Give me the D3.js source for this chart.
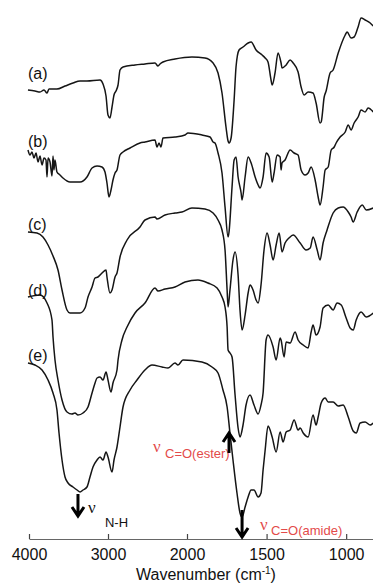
<!DOCTYPE html>
<html lang="en">
<head>
<meta charset="UTF-8" />
<title>FTIR spectra</title>
<style>
  body { margin: 0; background: #fff; }
  #viz text { font-family: "Liberation Sans", Arial, sans-serif; }
</style>
</head>
<body>
<div id="viz"></div>
<script src="https://cdnjs.cloudflare.com/ajax/libs/d3/7.8.5/d3.min.js"></script>
<script>
// [wavenumber (cm-1), transmittance (a.u., traces offset)]
const traceA = [[4013,90],[3924,89.8],[3861,89.6],[3810,90],[3772,89.4],[3747,90.2],[3646,90.2],[3544,90.8],[3443,91.4],[3354,91.8],[3266,91.8],[3101,92],[3063,91.2],[3025,88.8],[3000,85],[2975,84.4],[2949,86.6],[2924,89],[2899,89.8],[2873,91],[2848,94],[2810,94.6],[2658,95],[2532,95.2],[2405,95.4],[2367,94.8],[2342,95.2],[2304,95.6],[2152,96.2],[1969,96.6],[1887,96.4],[1836,95.4],[1805,93.4],[1780,89.4],[1755,82.6],[1742,79.8],[1736,79.4],[1723,80.4],[1704,88],[1692,94.6],[1673,98],[1648,98.6],[1616,99.4],[1597,99.6],[1566,98],[1528,97],[1509,96.4],[1491,95.6],[1472,92],[1465,91],[1447,93.4],[1428,97.4],[1409,95.4],[1403,94.4],[1377,95],[1352,96],[1333,95.4],[1302,93.6],[1283,90.6],[1264,89],[1239,89.6],[1208,89.4],[1189,87.4],[1164,83.4],[1157,83.6],[1138,88.6],[1126,89.8],[1101,93.4],[1082,94],[1050,97.4],[1006,101],[994,101.6],[969,100.4],[950,100.6],[925,102.6],[906,104.4],[881,104],[849,103.4],[830,102.8]];

const traceB = [[4013,78],[3987,77],[3962,77.6],[3937,76.4],[3911,77.4],[3886,75.6],[3861,76.8],[3835,75],[3810,76.4],[3785,76],[3772,72.6],[3759,76.4],[3734,75.6],[3709,72.8],[3696,76.8],[3684,74],[3671,76],[3646,73.6],[3608,73],[3570,72.4],[3481,71.6],[3354,71.6],[3266,72.6],[3202,74.4],[3139,74.8],[3076,74.6],[3038,73.6],[3013,71.4],[2987,68.6],[2962,70],[2937,72],[2911,73.4],[2886,74],[2848,77],[2810,77.6],[2721,78.4],[2595,79.4],[2532,79.6],[2405,80],[2380,78.6],[2354,79.4],[2329,78.6],[2304,80.4],[2152,80.6],[2025,81],[1994,81.4],[1906,81],[1855,80.6],[1836,79.6],[1824,79.4],[1805,77.4],[1780,73.4],[1761,66.6],[1742,60.6],[1736,61.6],[1717,70.6],[1704,76],[1692,76.6],[1679,72.6],[1660,69.4],[1654,68],[1635,72.6],[1616,76.6],[1597,75.4],[1572,72.6],[1553,71],[1541,70.4],[1522,72.6],[1503,77.4],[1484,76.6],[1465,71.6],[1453,73.4],[1434,77],[1415,76.6],[1409,74],[1403,75.4],[1384,76],[1352,78],[1327,77.4],[1302,77],[1283,74],[1258,73],[1239,73.4],[1220,74.6],[1195,72],[1176,68.6],[1164,67],[1145,70.6],[1132,74],[1113,74.6],[1094,78],[1075,78.6],[1063,79.4],[1038,80.6],[1006,81.6],[987,83],[969,82],[950,83.4],[925,84.6],[906,86],[881,85.6],[862,86.4],[830,85.6]];

const traceC = [[4013,61.6],[3899,61.4],[3823,60.6],[3759,59],[3696,56.8],[3633,54],[3582,50],[3519,46],[3481,45.4],[3354,45.4],[3291,46.4],[3253,48.6],[3202,50.6],[3164,52.4],[3127,52.6],[3076,53.4],[3025,54],[3013,52.6],[2975,49.4],[2949,50],[2911,52.6],[2886,53.4],[2848,56.6],[2759,60],[2595,62.6],[2532,64],[2405,64.6],[2380,64.2],[2278,65],[2152,65.4],[2063,65.6],[1969,66.4],[1887,66.2],[1836,65.4],[1805,64],[1780,62],[1761,58],[1748,50],[1742,46.6],[1730,50],[1711,56],[1698,57.6],[1679,53],[1667,46],[1654,42],[1635,45],[1616,49.4],[1604,51],[1585,50],[1566,48],[1553,47.4],[1535,51],[1516,58],[1497,61.4],[1478,59],[1459,56],[1440,59],[1421,61.4],[1403,57.6],[1384,59.4],[1359,60.4],[1333,61],[1289,59.4],[1252,58],[1226,58.4],[1208,60.6],[1182,58],[1164,56],[1145,59.4],[1120,62],[1082,65.4],[1050,66.4],[1019,66.6],[987,65.6],[969,64.6],[956,63.6],[931,65.6],[899,67],[874,66],[830,66.4]];

const traceD = [[4013,48.6],[3861,49],[3772,47.4],[3709,44],[3696,40.6],[3671,36],[3633,32],[3582,28],[3519,25.6],[3456,25.2],[3418,25.4],[3380,25],[3316,25.4],[3253,26.6],[3202,29.4],[3164,31.4],[3139,32.4],[3101,32.6],[3063,32],[3025,33.6],[3000,32],[2962,29.6],[2937,31.4],[2886,34],[2873,36],[2823,40],[2759,42.6],[2658,45.4],[2532,47.4],[2405,50.4],[2367,49.8],[2278,50.2],[2152,50.6],[2025,51.6],[1931,52],[1868,51.4],[1811,50.4],[1780,48.6],[1761,46.6],[1748,42.6],[1742,38],[1730,37.4],[1717,36.6],[1698,29],[1679,22.4],[1667,20.6],[1648,23],[1629,27],[1604,29],[1579,27],[1553,25.2],[1535,27],[1522,29.4],[1503,40],[1491,41],[1459,38.6],[1440,36],[1415,40.4],[1409,40],[1390,36.6],[1377,39.6],[1352,39.4],[1321,41.6],[1302,40],[1270,39],[1239,38.4],[1220,41.6],[1208,43],[1189,41],[1164,42.6],[1145,46.4],[1113,47],[1082,46],[1057,47.4],[1031,47],[1000,44.4],[975,42.4],[956,42],[937,44],[906,45.6],[874,44.6],[830,45.4]];

const traceE = [[4013,35.4],[3924,35],[3835,34],[3759,32],[3696,29.4],[3646,26],[3620,21.4],[3582,16],[3544,12.6],[3506,11.4],[3443,10.6],[3392,10],[3354,9.6],[3316,10],[3266,10.6],[3228,12.6],[3190,14.6],[3139,16],[3101,16.6],[3063,16],[3025,17.6],[3000,16.6],[2949,13.6],[2924,16],[2886,18.6],[2848,22.6],[2810,26.6],[2721,30],[2633,32],[2532,34],[2443,35],[2316,34.6],[2240,34.4],[2152,35.4],[2114,35],[2051,36],[1906,35.6],[1843,34.6],[1805,33.4],[1774,30],[1748,26.6],[1730,21.4],[1711,16],[1686,9.4],[1667,5.4],[1654,4.6],[1635,6.6],[1616,8.6],[1597,10],[1579,10],[1553,8.6],[1535,9.4],[1522,14],[1509,18],[1491,22.8],[1465,20.6],[1440,17.6],[1415,21.6],[1396,19.6],[1377,21.6],[1352,22],[1327,24],[1302,22],[1289,22.4],[1270,21.4],[1239,20.6],[1208,25],[1189,23],[1176,24.6],[1157,27.4],[1132,28.4],[1113,27.6],[1082,27.6],[1050,26.8],[1019,27],[987,24.6],[956,21.8],[937,21.4],[912,23.4],[881,23.6],[849,23],[830,23.4]];

const seriesLabels = ["(a)", "(b)", "(c)", "(d)", "(e)"];
const labelLevels = [92.2, 78.6, 62, 48.8, 35.8];
const xTicks = [4000, 3000, 2000, 1500, 1000];
const bands = ["N-H", "C=O(ester)", "C=O(amide)"];
const bandWavenumbers = [3380, 1736, 1654];

let width = 373,
    height = 585;

let svg = d3.select("#viz")
  .append("svg")
  .attr("width", width)
  .attr("height", height);

// split scale: 2x expansion below 2000 cm-1
let x = d3.scaleLinear()
  .domain([4000, 2000, 800])
  .range([29, 187, 378]);

let y = d3.scaleLinear()
  .domain([0, 108])
  .range([540, 0]);

// axis
let axis = svg.append("g")
  .attr("transform", "translate(0, 539)")
  .call(d3.axisBottom(x)
    .tickValues(xTicks)
    .tickSizeInner(-5)
    .tickSizeOuter(0)
    .tickPadding(10)
    .tickFormat(d3.format("d")));

axis.select(".domain").attr("stroke", "#666").attr("stroke-width", 1.2);
axis.selectAll(".tick line").attr("stroke", "#444").attr("stroke-width", 1.2);
axis.selectAll(".tick text")
  .attr("fill", "#111")
  .style("font-size", "16px");

let title = svg.append("text")
  .attr("x", 206)
  .attr("y", 580)
  .attr("text-anchor", "middle")
  .attr("fill", "#111")
  .style("font-size", "16px");
title.append("tspan").text("Wavenumber (cm");
title.append("tspan").attr("dy", -6).style("font-size", "10px").text("-1");
title.append("tspan").attr("dy", 6).text(")");

// band annotations (text below the traces)
let red = "#e34a4a";
let ann = [
  { name: bands[0], wn: bandWavenumbers[0], color: "#111", nu: 10, sub: 27, nuY: 513, subY: 527 },
  { name: bands[1], wn: bandWavenumbers[1], color: red, nu: -76, sub: -64, nuY: 452, subY: 458 },
  { name: bands[2], wn: bandWavenumbers[2], color: red, nu: 18, sub: 29, nuY: 530, subY: 535 }
];

ann.forEach(a => {
  svg.append("text")
    .attr("x", x(a.wn) + a.nu)
    .attr("y", a.nuY)
    .attr("fill", a.color)
    .style("font-family", "'Liberation Serif', 'DejaVu Serif', serif")
    .style("font-size", "17px")
    .text("ν");
  svg.append("text")
    .attr("x", x(a.wn) + a.sub)
    .attr("y", a.subY)
    .attr("fill", a.color)
    .style("font-size", "13px")
    .text(a.name);
});

// traces
let line = d3.line()
  .x(d => x(d[0]))
  .y(d => y(d[1]))
  .curve(d3.curveMonotoneX);

[traceA, traceB, traceC, traceD, traceE].forEach(t => {
  svg.append("path")
    .datum(t)
    .attr("fill", "none")
    .attr("stroke", "#151515")
    .attr("stroke-width", 1.5)
    .attr("stroke-linejoin", "round")
    .attr("d", line);
});

svg.selectAll(".series-label")
  .data(seriesLabels)
  .join("text")
  .attr("class", "series-label")
  .attr("x", 28)
  .attr("y", (d, i) => y(labelLevels[i]))
  .attr("fill", "#111")
  .style("font-size", "16px")
  .text(d => d);

// arrows: [wn, from, to] in a.u.
function arrow(wn, v0, v1) {
  let ax = x(wn), y0 = y(v0), y1 = y(v1);
  let dir = y1 > y0 ? 1 : -1;
  svg.append("path")
    .attr("d", `M${ax},${y0}L${ax},${y1 - dir}` +
      `M${ax - 6},${y1 - dir * 9}L${ax},${y1}L${ax + 6},${y1 - dir * 9}`)
    .attr("fill", "none")
    .attr("stroke", "#000")
    .attr("stroke-width", 3)
    .attr("stroke-linejoin", "miter");
}

arrow(bandWavenumbers[0], 9.2, 4.8);
arrow(bandWavenumbers[1], 17.4, 21.4);
arrow(bandWavenumbers[2], 6, 0.6);
</script>
</body>
</html>
